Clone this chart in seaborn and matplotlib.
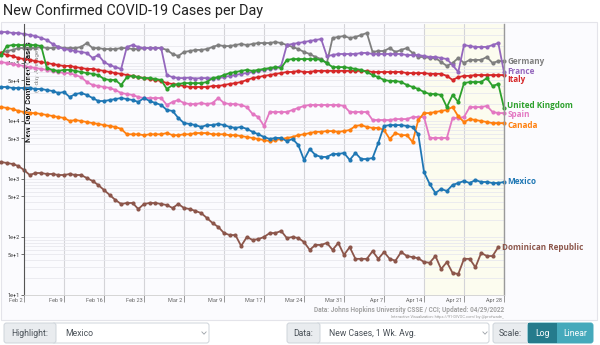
import numpy as np
import pandas as pd
import matplotlib
matplotlib.use("Agg")
import matplotlib.pyplot as plt
import seaborn as sns
from matplotlib.patches import Rectangle, FancyBboxPatch
from matplotlib.ticker import FixedLocator, LogLocator, NullFormatter
from matplotlib.transforms import ScaledTranslation

# ---------------------------------------------------------------------------
# New confirmed cases per day, 7-day average (thousands), one value per day,
# starting four days before Feb 2.
# ---------------------------------------------------------------------------
FIRST_DAY = -4

germany = [149, 161, 168, 181,
           181, 181, 181, 189, 181, 181, 189,
           181, 181, 181, 189, 221, 181, 181,
           174, 174, 174, 181, 181, 174, 174,
           181, 181, 181, 181, 168, 143, 132,
           155, 161, 168, 168, 174, 189, 204,
           196, 196, 204, 213, 204, 213, 221,
           221, 221, 230, 221, 204, 189, 174,
           155, 143, 127, 117, 100, 270, 281,
           292, 270, 281, 304, 329, 155, 161,
           161, 181, 155, 168, 181, 149, 127,
           127, 122, 122, 104, 89, 100, 122,
           100, 113, 113, 113, 127, 100, 108,
           108]

france = [342, 342, 329, 329,
          316, 304, 292, 270, 249, 213, 189,
          174, 168, 161, 155, 149, 122, 137,
          104, 92, 85, 79, 189, 204, 189,
          181, 181, 181, 181, 62, 57, 55,
          55, 56, 54, 55, 55, 54, 55,
          57, 60, 62, 65, 67, 70, 73,
          76, 79, 82, 89, 204, 213, 221,
          230, 240, 249, 259, 132, 137, 143,
          143, 143, 143, 149, 149, 143, 143,
          143, 143, 143, 143, 137, 137, 137,
          132, 127, 127, 122, 117, 92, 70,
          204, 196, 189, 189, 189, 204, 221,
          70]

italy = [149, 137, 132, 122,
         117, 113, 108, 104, 100, 96, 92,
         89, 89, 85, 82, 79, 79, 76,
         73, 70, 67, 65, 62, 60, 57,
         55, 53, 51, 49, 45, 43.5, 41.8,
         40.1, 38.6, 38.6, 38.6, 38.6, 40.1, 40.1,
         41.8, 43.5, 45, 47, 51, 55, 57,
         60, 62, 65, 67, 70, 70, 73,
         70, 70, 73, 73, 73, 73, 73,
         73, 73, 73, 73, 73, 70, 70,
         70, 70, 70, 70, 67, 67, 67,
         67, 65, 65, 65, 60, 51, 57,
         60, 60, 62, 62, 62, 62, 62,
         62]

united_kingdom = [137, 196, 204, 204,
                  204, 204, 204, 196, 82, 76, 73,
                  76, 76, 73, 70, 67, 65, 62,
                  53, 51, 51, 41.8, 57, 60, 57,
                  55, 55, 53, 51, 35.6, 41.8, 43.5,
                  45, 45, 45, 45, 47, 55, 57,
                  62, 67, 70, 73, 76, 73, 76,
                  79, 82, 85, 82, 113, 117, 117,
                  117, 117, 117, 113, 100, 85, 85,
                  85, 82, 79, 76, 70, 62, 57,
                  51, 49, 49, 47, 41.8, 38.6, 35.6,
                  31.6, 29.2, 29.2, 28.1, 17.4, 28.1, 21.3,
                  45, 47, 47, 47, 55, 40.1, 43.5,
                  16.8]

spain = [104, 100, 96, 92,
         89, 85, 82, 79, 76, 73, 70,
         67, 67, 62, 57, 47, 41.8, 40.1,
         38.6, 37.1, 34.2, 30.4, 29.2, 28.1, 25.9,
         24.9, 24.9, 24.9, 24.9, 18.9, 21.3, 23.0,
         20.4, 19.6, 19.6, 20.4, 19.6, 20.4, 24.9,
         20.4, 19.6, 19.6, 18.9, 17.4, 13.2, 11.7,
         8.2, 14.3, 14.3, 14.3, 14.3, 15.5, 16.8,
         18.2, 18.9, 18.9, 18.9, 18.9, 18.9, 18.9,
         18.2, 14.3, 14.3, 14.3, 14.3, 10.4, 10.4,
         10.4, 10.4, 10.8, 10.8, 10.8, 11.7, 11.7,
         11.7, 5.1, 5.1, 5.1, 5.1, 11.3, 11.3,
         11.7, 17.4, 17.4, 17.4, 18.2, 14.3, 13.7,
         13.7]

canada = [17.4, 16.8, 16.1, 14.9,
          14.3, 13.7, 13.7, 13.2, 12.7, 12.2, 11.7,
          11.3, 10.0, 10.4, 10.0, 9.6, 9.2, 8.9,
          8.5, 8.2, 7.9, 7.3, 5.9, 5.9, 5.9,
          5.7, 5.9, 5.9, 5.9, 6.2, 5.7, 5.7,
          5.9, 5.9, 6.2, 6.2, 6.2, 5.9, 5.9,
          5.9, 5.7, 5.7, 5.5, 5.3, 5.1, 4.9,
          4.7, 4.5, 4.7, 4.9, 5.1, 5.3, 5.7,
          5.9, 6.2, 6.5, 6.5, 6.7, 6.7, 6.5,
          6.7, 7.0, 8.2, 8.5, 7.9, 7.6, 7.6,
          7.0, 4.9, 6.2, 5.7, 5.7, 4.35, 10.4,
          13.7, 13.7, 14.3, 14.9, 15.5, 17.4, 12.0,
          9.6, 10.8, 10.4, 10.0, 9.6, 9.2, 9.2,
          9.2]

mexico = [38.6, 38.6, 37.1, 37.1,
          37.1, 37.1, 35.6, 35.6, 34.2, 32.9, 30.4,
          31.6, 25.9, 29.2, 30.4, 28.1, 24.9, 22.1,
          22.1, 23.0, 23.9, 24.9, 23.9, 23.0, 21.3,
          24.9, 22.1, 20.4, 18.9, 15.5, 14.9, 11.3,
          9.2, 8.9, 8.5, 7.9, 8.5, 8.5, 8.9,
          8.5, 7.9, 7.6, 7.9, 7.3, 6.5, 5.9,
          5.3, 4.9, 5.1, 5.1, 4.5, 4.9, 3.86,
          2.13, 3.29, 2.59, 2.40, 2.40, 2.70, 2.70,
          2.81, 2.13, 2.81, 2.21, 2.21, 2.30, 4.18,
          8.2, 8.5, 8.5, 8.5, 8.2, 7.9, 5.9,
          1.32, 0.82, 0.574, 0.673, 0.621, 0.788, 0.853,
          0.924, 0.853, 0.961, 0.888, 0.888, 0.853, 0.853,
          0.888]

dominican_republic = [1.963, 1.888, 1.815, 1.675,
                      1.430, 1.172, 1.268, 1.268, 1.219, 1.219, 1.172,
                      1.172, 1.219, 1.172, 1.172, 1.039, 0.924, 0.788,
                      0.646, 0.530, 0.434, 0.371, 0.386, 0.386, 0.304,
                      0.371, 0.386, 0.386, 0.371, 0.356, 0.316, 0.371,
                      0.316, 0.304, 0.281, 0.259, 0.213, 0.174, 0.149,
                      0.117, 0.108, 0.108, 0.070, 0.100, 0.089, 0.092,
                      0.100, 0.117, 0.117, 0.127, 0.096, 0.100, 0.096,
                      0.082, 0.060, 0.073, 0.073, 0.079, 0.060, 0.079,
                      0.049, 0.067, 0.042, 0.042, 0.042, 0.057, 0.042,
                      0.055, 0.042, 0.039, 0.055, 0.047, 0.045, 0.043,
                      0.037, 0.036, 0.047, 0.028, 0.037, 0.024, 0.023,
                      0.042, 0.042, 0.030, 0.053, 0.047, 0.047, 0.067]

countries = ["Germany", "France", "Italy", "United Kingdom",
             "Spain", "Canada", "Mexico", "Dominican Republic"]
series = dict(zip(countries, [germany, france, italy, united_kingdom,
                              spain, canada, mexico, dominican_republic]))
colors = {"Germany": "#7f7f7f", "France": "#9467bd", "Italy": "#d62728",
          "United Kingdom": "#2ca02c", "Spain": "#e377c2", "Canada": "#ff7f0e",
          "Mexico": "#1f77b4", "Dominican Republic": "#8c564b"}
draw_order = ["Germany", "Italy", "Spain", "Canada", "Dominican Republic",
              "France", "United Kingdom", "Mexico"]
# vertical nudge (points) of the end-of-line names
label_nudge = {"France": 0.6, "Italy": -3.2, "United Kingdom": 1.9,
               "Spain": -1.1, "Canada": -1.4}

week_labels = ["Feb 2", "Feb 9", "Feb 16", "Feb 23", "Mar 2", "Mar 9", "Mar 17",
               "Mar 24", "Mar 31", "Apr 7", "Apr 14", "Apr 21", "Apr 28"]
y_tick_values = [10, 50, 100, 500, 1e3, 5e3, 1e4, 5e4, 1e5]
y_tick_labels = ["1e+1", "5e+1", "1e+2", "5e+2", "1e+3", "5e+3", "1e+4", "5e+4", "1e+5"]

rows = []
for c in countries:
    for i, v in enumerate(series[c]):
        rows.append((FIRST_DAY + i, c, v * 1000.0))
df = pd.DataFrame(rows, columns=["day", "country", "cases"])

# ---------------------------------------------------------------------------
sns.set_theme(style="white")
plt.rcParams["font.family"] = ["Roboto", "DejaVu Sans"]

W, H = 600, 345
fig = plt.figure(figsize=(W / 100, H / 100), dpi=100)
fig.patch.set_facecolor("white")

# pixel-space layer for the card, title and controls
bg = fig.add_axes([0, 0, 1, 1], zorder=0)
bg.set_xlim(0, W)
bg.set_ylim(H, 0)
bg.axis("off")

bg.add_patch(Rectangle((0.5, 22), 596.5, 298, facecolor="#fbfbfe",
                       edgecolor="#e4e4ea", lw=0.8))
bg.text(3, 11, "New Confirmed COVID-19 Cases per Day", fontsize=10.4,
        color="#222222", va="center", ha="left")

bg.text(29, 142, "New Daily Confirmed Cases", rotation=90, rotation_mode="anchor",
        ha="left", va="center", fontsize=5.9, fontweight="bold", color="#111111")
bg.text(37, 92, "(7-day Average)", rotation=90, rotation_mode="anchor",
        ha="left", va="center", fontsize=4.6, color="#8a8a8a")

bg.text(504, 310, "Data: Johns Hopkins University CSSE / CCI; Updated: 04/29/2022",
        ha="right", va="center", fontsize=4.7, fontweight="bold", color="#a3a3a3")
bg.text(504, 317, "Interactive Visualization: https://91-DIVOC.com/ by @profwade_",
        ha="right", va="center", fontsize=2.9, color="#9a9a9a")

# controls row
def box(x0, x1, fc, ec="#ced4da", y0=323, y1=343, r=2.5, z=1):
    bg.add_patch(FancyBboxPatch((x0, y0), x1 - x0, y1 - y0,
                                boxstyle=f"round,pad=0,rounding_size={r}",
                                facecolor=fc, edgecolor=ec, lw=0.7, zorder=z))

def chevron(x, y=333):
    bg.plot([x - 2.2, x, x + 2.2], [y - 1.2, y + 1.2, y - 1.2],
            color="#9aa0a6", lw=0.6, zorder=3)

ctl = dict(fontsize=6.2, va="center", color="#495057", zorder=4)
box(52, 209, "white")
box(4, 56, "#e9ecef", z=2)
bg.text(30, 333, "Highlight:", ha="center", **ctl)
bg.text(65, 333, "Mexico", ha="left", **ctl)
chevron(204)

box(316, 489, "white")
box(287, 320, "#e9ecef", z=2)
bg.text(303.5, 333, "Data:", ha="center", **ctl)
bg.text(329, 333, "New Cases, 1 Wk. Avg.", ha="left", **ctl)
chevron(485)

box(493, 531, "#e9ecef")
box(528, 593, "#45a9bb", ec="#45a9bb", z=2)
bg.add_patch(Rectangle((528, 323), 29, 20, facecolor="#257b8c", edgecolor="none", zorder=3))
bg.text(510.5, 333, "Scale:", ha="center", **ctl)
bg.text(542.5, 333, "Log", ha="center", fontsize=6.2, va="center", color="white", zorder=4)
bg.text(575, 333, "Linear", ha="center", fontsize=6.2, va="center", color="white", zorder=4)

# ---------------------------------------------------------------------------
# plot axes: day 0 at x=24 px, day 84 at x=504 px; 1e+1 at y=295 px, 58 px/decade
top_px, bot_px = 24, 295
ax = fig.add_axes([24 / W, 1 - bot_px / H, 480 / W, (bot_px - top_px) / H], zorder=2)
ax.patch.set_alpha(0)
ax.set_yscale("log")
ax.set_xlim(0, 84)
ax.set_ylim(10, 10 ** (1 + (bot_px - top_px) / 58))

ax.axvspan(70, 84, color="#fcfcef", zorder=0.1, lw=0)

sns.lineplot(data=df, x="day", y="cases", hue="country", hue_order=draw_order,
             palette=colors, estimator=None, sort=False, legend=False,
             marker="o", markersize=3.0, markeredgewidth=0, linewidth=1.3, ax=ax)
for ln in ax.lines:
    ln.set_clip_on(False)

# axes styling
ax.yaxis.set_major_locator(FixedLocator(y_tick_values))
ax.set_yticklabels(y_tick_labels)
ax.yaxis.set_minor_locator(LogLocator(base=10, subs=np.arange(2, 10)))
ax.yaxis.set_minor_formatter(NullFormatter())
ax.set_xticks(range(0, 85, 7))
ax.set_xticklabels(week_labels)
ax.set_xlabel("")
ax.set_ylabel("")

ax.tick_params(axis="y", which="major", length=2.4, width=0.6, color="#555555",
               labelsize=4, labelcolor="#333333", pad=0.8, left=True)
ax.tick_params(axis="y", which="minor", length=0)
ax.tick_params(axis="x", length=5, width=0.6, color="#888888", labelsize=4,
               labelcolor="#666666", pad=-3.0, bottom=True)
shift = ScaledTranslation(-1.5 / 100, 0, fig.dpi_scale_trans)
for lab in ax.get_xticklabels():
    lab.set_ha("right")
    lab.set_transform(lab.get_transform() + shift)

ax.set_axisbelow(True)
ax.grid(True, which="both", axis="y", color="#e8e8ee", lw=0.6)
ax.grid(True, which="major", axis="x", color="#d4d4d8", lw=0.8)

ax.spines["top"].set_visible(False)
ax.spines["left"].set_color("#555555")
ax.spines["left"].set_linewidth(0.8)
ax.spines["right"].set_color("#9a9a9a")
ax.spines["right"].set_linewidth(1.0)
ax.spines["bottom"].set_color("#cfcfcf")
ax.spines["bottom"].set_linewidth(0.6)

# names at the end of each line
for c in countries:
    vals = series[c]
    last_day = FIRST_DAY + len(vals) - 1
    ax.annotate(c, xy=(last_day, vals[-1] * 1000.0),
                xytext=(2.4, label_nudge.get(c, 0.0)), textcoords="offset points",
                ha="left", va="center", fontsize=5.9, fontweight="bold",
                family=["Open Sans", "DejaVu Sans"],
                color=colors[c], annotation_clip=False)

fig.savefig("out.png", dpi=100)
